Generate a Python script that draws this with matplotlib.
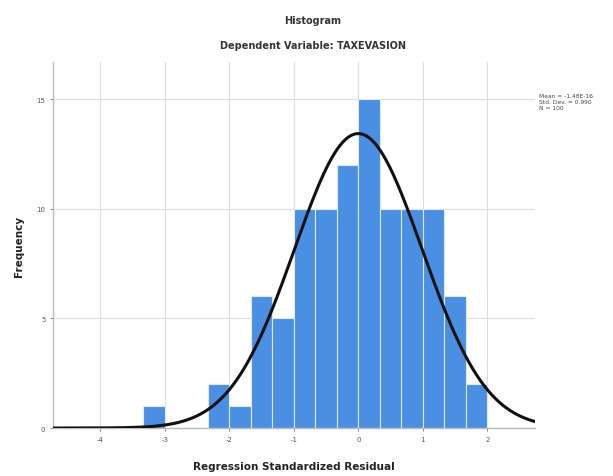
import matplotlib
matplotlib.use('Agg')
import matplotlib.pyplot as plt
import numpy as np

plt.rcParams['axes.unicode_minus'] = False

# histogram bins (bin width 1/3)
bin_left = [-10, -7, -6, -5, -4, -3, -2, -1, 0, 1, 2, 3, 4, 5]  # in thirds
counts = [1, 2, 1, 6, 5, 10, 10, 12, 15, 10, 10, 10, 6, 2]
bin_width = 1 / 3
mean = -1.48e-16
std_dev = 0.990
n_obs = 100

x_ticks = [-4, -3, -2, -1, 0, 1, 2]
y_ticks = [0, 5, 10, 15]

fig = plt.figure(figsize=(6.13, 4.77), dpi=100)
ax = fig.add_axes([0.0865, 0.1006, 0.7865, 0.7674])

lefts = np.array(bin_left) * bin_width
ax.bar(lefts, counts, width=bin_width, align='edge', color='#4a8fe2',
       edgecolor='#dfe9f7', linewidth=0.8, zorder=2)

xmin, xmax = -4.73, 2.74
xs = np.linspace(xmin, xmax, 400)
ys = n_obs * bin_width / (std_dev * np.sqrt(2 * np.pi)) * np.exp(-0.5 * ((xs - mean) / std_dev) ** 2)
ax.plot(xs, ys, color='#111111', linewidth=2.2, zorder=3)

ax.set_xlim(xmin, xmax)
ax.set_ylim(0, 16.7)
ax.set_xticks(x_ticks)
ax.set_yticks(y_ticks)
ax.tick_params(axis='both', labelsize=5, colors='#555555', length=2, width=0.5)
ax.grid(True, color='#dddddd', linewidth=0.8, zorder=0)
ax.set_axisbelow(True)
for side in ['top', 'right']:
    ax.spines[side].set_visible(False)
for side in ['left', 'bottom']:
    ax.spines[side].set_color('#bbbbbb')
    ax.spines[side].set_linewidth(1.0)

ax.set_xlabel('Regression Standardized Residual', fontsize=7.5, fontweight='bold',
              color='#222222', labelpad=14)
ax.set_ylabel('Frequency', fontsize=7.5, fontweight='bold', color='#222222', labelpad=9)

fig.text(0.51, 0.955, 'Histogram', ha='center', va='center', fontsize=7,
         fontweight='bold', color='#333333')
fig.text(0.51, 0.903, 'Dependent Variable: TAXEVASION', ha='center', va='center',
         fontsize=7, fontweight='bold', color='#333333')

fig.text(0.88, 0.768, 'Mean = -1.48E-16\nStd. Dev. = 0.990\nN = 100', ha='left', va='bottom',
         fontsize=4.3, color='#444444', linespacing=1.25)

fig.savefig('out.png', dpi=100)
